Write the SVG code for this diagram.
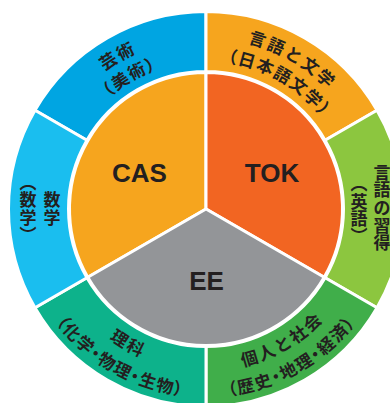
<svg xmlns="http://www.w3.org/2000/svg" width="390" height="403" viewBox="0 0 390 403">
<style>
.seg{stroke:#fff;stroke-width:3}
.jp{font-family:"Noto Sans CJK JP","Noto Sans CJK SC",sans-serif;font-weight:700;font-size:17px;fill:#231F20}
.pt{font-feature-settings:"palt" 1}
.vt{writing-mode:vertical-rl}
.lat{font-family:"Liberation Sans",Arial,sans-serif;font-weight:700;font-size:26px;fill:#231F20}
</style>
<defs>
<path id="tl1" d="M57.910,123.5 A171,171 0 0 1 206,38"/>
<path id="tl2" d="M77.828,135 A148,148 0 0 1 206,61"/>
<path id="tr1" d="M206,38 A171,171 0 0 1 354.090,123.5"/>
<path id="tr2" d="M206,61 A148,148 0 0 1 334.172,135"/>
<path id="bl1" d="M65.704,290 A162,162 0 0 0 206,371"/>
<path id="bl2" d="M43.187,303 A188,188 0 0 0 206,397"/>
<path id="br1" d="M206,371 A162,162 0 0 0 346.296,290"/>
<path id="br2" d="M206,397 A188,188 0 0 0 368.813,303"/>
</defs>
<rect width="390" height="403" fill="#fff"/>

<g id="arts">
<path class="seg" fill="#00A5E2" d="M34.960,110.25 A197.5,197.5 0 0 1 206,11.5 L206,71.5 A137.5,137.5 0 0 0 86.922,140.25 Z"/>
<text class="jp" letter-spacing="2"><textPath href="#tl1" startOffset="50%" text-anchor="middle">芸術</textPath></text>
<text class="jp pt" letter-spacing="1.5"><textPath href="#tl2" startOffset="50%" text-anchor="middle">（美術）</textPath></text>
</g>

<g id="langlit">
<path class="seg" fill="#F6A51E" d="M206,11.5 A197.5,197.5 0 0 1 377.040,110.25 L325.078,140.25 A137.5,137.5 0 0 0 206,71.5 Z"/>
<text class="jp" letter-spacing="2"><textPath href="#tr1" startOffset="50%" text-anchor="middle">言語と文学</textPath></text>
<text class="jp pt" letter-spacing="1.5"><textPath href="#tr2" startOffset="50%" text-anchor="middle">（日本語文学）</textPath></text>
</g>

<g id="langacq">
<path class="seg" fill="#8CC63F" d="M377.040,110.25 A197.5,197.5 0 0 1 377.040,307.75 L325.078,277.75 A137.5,137.5 0 0 0 325.078,140.25 Z"/>
<g class="jp" text-anchor="middle">
<text x="382" y="178.8">言</text>
<text x="382" y="196.4">語</text>
<text x="382" y="214">の</text>
<text x="382" y="231.6">習</text>
<text x="382" y="249.2">得</text>
<text x="359" y="207.5">英</text>
<text x="359" y="224.9">語</text>
<text class="vt" x="359" y="183.6">（</text>
<text class="vt" x="359" y="235.8">）</text>
</g>
</g>

<g id="society">
<path class="seg" fill="#40AE4A" d="M377.040,307.75 A197.5,197.5 0 0 1 206,406.5 L206,346.5 A137.5,137.5 0 0 0 325.078,277.75 Z"/>
<text class="jp" letter-spacing="2"><textPath href="#br1" startOffset="50%" text-anchor="middle">個人と社会</textPath></text>
<text class="jp pt" letter-spacing="1.5"><textPath href="#br2" startOffset="50%" text-anchor="middle">（歴史・地理・経済）</textPath></text>
</g>

<g id="science">
<path class="seg" fill="#0DB28B" d="M206,406.5 A197.5,197.5 0 0 1 34.960,307.75 L86.922,277.75 A137.5,137.5 0 0 0 206,346.5 Z"/>
<text class="jp" letter-spacing="2"><textPath href="#bl1" startOffset="50%" text-anchor="middle">理科</textPath></text>
<text class="jp pt" letter-spacing="1.5"><textPath href="#bl2" startOffset="50%" text-anchor="middle">（化学・物理・生物）</textPath></text>
</g>

<g id="math">
<path class="seg" fill="#1ABEEF" d="M34.960,307.75 A197.5,197.5 0 0 1 34.960,110.25 L86.922,140.25 A137.5,137.5 0 0 0 86.922,277.75 Z"/>
<g class="jp" text-anchor="middle">
<text x="52" y="206.3">数</text>
<text x="52" y="223.7">学</text>
<text x="28" y="206.3">数</text>
<text x="28" y="223.7">学</text>
<text class="vt" x="28" y="182.4">（</text>
<text class="vt" x="28" y="234.6">）</text>
</g>
</g>

<g id="cas">
<path class="seg" fill="#F6A51E" d="M206,209 L206,72.5 A136.5,136.5 0 0 0 87.788,277.25 Z"/>
<text class="lat" x="139.5" y="182" text-anchor="middle">CAS</text>
</g>
<g id="tok">
<path class="seg" fill="#F26522" d="M206,209 L206,72.5 A136.5,136.5 0 0 1 324.212,277.25 Z"/>
<text class="lat" x="272" y="182" text-anchor="middle">TOK</text>
</g>
<g id="ee">
<path class="seg" fill="#939598" d="M206,209 L87.788,277.25 A136.5,136.5 0 0 0 324.212,277.25 Z"/>
<text class="lat" x="206.5" y="290" text-anchor="middle">EE</text>
</g>

<g id="connectors"/>
</svg>
